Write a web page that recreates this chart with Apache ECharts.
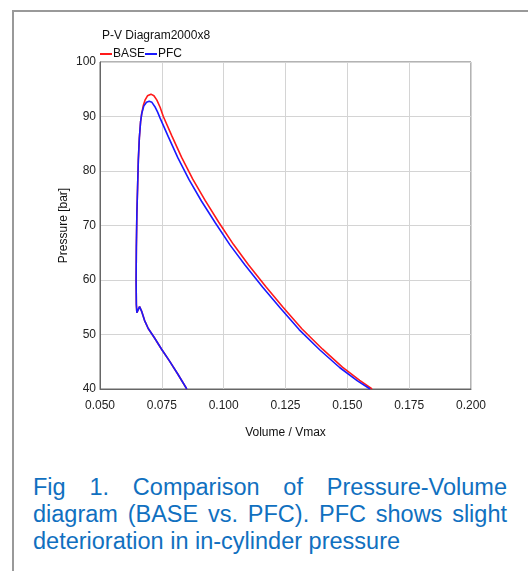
<!DOCTYPE html>
<html>
<head>
<meta charset="utf-8">
<style>
  body { margin: 0; width: 528px; height: 571px; position: relative; background: #fff; overflow: hidden; }
  #frame { position: absolute; left: 12px; top: 10px; right: -4px; bottom: -4px; border-top: 2px solid #999; border-left: 2px solid #999; }
  #container { position: absolute; left: 0; top: 0; width: 528px; height: 460px; }
  #caption { position: absolute; left: 33px; top: 474px; width: 474px; font-family: "Liberation Sans", Arial, sans-serif;
             font-size: 23.5px; line-height: 27px; color: #1070c0; text-align: justify; }
</style>
</head>
<body>
<div id="frame"></div>
<div id="container"></div>
<div id="caption">Fig 1. Comparison of Pressure-Volume diagram (BASE vs. PFC). PFC shows slight deterioration in in-cylinder pressure</div>
<script src="https://cdn.jsdelivr.net/npm/echarts@6/dist/echarts.min.js"></script>
<script>
// compression branch + combustion rise (both runs overlap here)
var sharedVolume   = [0.0851, 0.0815, 0.0780, 0.0749, 0.0720, 0.0695, 0.0680, 0.0668, 0.0660, 0.0654, 0.0649, 0.0647, 0.0646, 0.0647, 0.0649, 0.0652, 0.0655, 0.0659, 0.0664, 0.0669];
var sharedPressure = [40.0, 42.7, 45.2, 47.3, 49.4, 51.1, 52.6, 54.3, 55.1, 54.8, 54.0, 55.5, 60.0, 66.0, 72.0, 77.0, 82.0, 86.0, 89.0, 90.6];

// peak + expansion
var baseVolume   = [0.0675, 0.0682, 0.0692, 0.0706, 0.0718, 0.0730, 0.0743, 0.0756, 0.0790, 0.0830, 0.0875, 0.0925, 0.0980, 0.1040, 0.1100, 0.1170, 0.1240, 0.1317, 0.1400, 0.1480, 0.1550, 0.1600];
var basePressure = [92.0, 93.0, 93.8, 94.1, 93.8, 93.0, 91.7, 90.0, 86.5, 82.5, 78.5, 74.6, 70.6, 66.5, 62.8, 58.8, 55.0, 51.0, 47.3, 44.0, 41.6, 40.0];

var pfcVolume   = [0.0677, 0.0688, 0.0699, 0.0710, 0.0722, 0.0733, 0.0743, 0.0776, 0.0815, 0.0860, 0.0910, 0.0966, 0.1026, 0.1087, 0.1157, 0.1228, 0.1305, 0.1388, 0.1470, 0.1541, 0.1592];
var pfcPressure = [91.9, 92.6, 92.8, 92.6, 91.8, 90.8, 89.7, 86.3, 82.4, 78.4, 74.5, 70.5, 66.4, 62.7, 58.7, 54.9, 50.9, 47.2, 43.9, 41.5, 40.0];

function pairs(v, p) {
    var out = [];
    for (var i = 0; i < v.length; i++) out.push([v[i], p[i]]);
    return out;
}
var baseData = pairs(sharedVolume, sharedPressure).concat(pairs(baseVolume, basePressure));
var pfcData = pairs(sharedVolume, sharedPressure).concat(pairs(pfcVolume, pfcPressure));

var myChart = echarts.init(document.getElementById('container'));
var option = {
    animation: false,
    textStyle: { fontFamily: 'Liberation Sans, Arial, sans-serif' },
    title: {
        text: 'P-V Diagram2000x8',
        left: 97,
        top: 25,
        textStyle: { fontSize: 12, fontWeight: 'normal', color: '#111' }
    },
    legend: {
        left: 100,
        top: 48,
        padding: 0,
        icon: 'rect',
        itemWidth: 12,
        itemHeight: 2,
        itemGap: 0,
        textStyle: { fontSize: 12, color: '#111', padding: [0, 0, 0, -4] },
        data: ['BASE', 'PFC']
    },
    grid: {
        left: 100,
        right: 57,
        top: 62,
        height: 327,
        show: true,
        borderColor: '#666',
        borderWidth: 1
    },
    xAxis: {
        type: 'value',
        min: 0.05,
        max: 0.2,
        interval: 0.025,
        name: 'Volume / Vmax',
        nameLocation: 'middle',
        nameGap: 38,
        nameMoveOverlap: false,
        nameTextStyle: { fontSize: 12, color: '#111' },
        axisLine: { lineStyle: { color: '#666' } },
        axisTick: { show: false },
        axisLabel: {
            fontSize: 12, color: '#222', margin: 11,
            formatter: function (v) { return v.toFixed(3); }
        },
        splitLine: { lineStyle: { color: '#d4d4d4' } }
    },
    yAxis: {
        type: 'value',
        min: 40,
        max: 100,
        interval: 10,
        name: 'Pressure [bar]',
        nameLocation: 'middle',
        nameGap: 30,
        nameMoveOverlap: false,
        nameTextStyle: { fontSize: 12, color: '#111' },
        axisLine: { show: true, lineStyle: { color: '#666' } },
        axisTick: { show: false },
        axisLabel: { fontSize: 12, color: '#222', margin: 4 },
        splitLine: { lineStyle: { color: '#d4d4d4' } }
    },
    series: [
        {
            name: 'BASE',
            type: 'line',
            showSymbol: false,
            color: '#ff1a1a',
            lineStyle: { width: 1.6 },
            data: baseData
        },
        {
            name: 'PFC',
            type: 'line',
            showSymbol: false,
            color: '#1a1aff',
            lineStyle: { width: 1.6 },
            data: pfcData
        }
    ]
};
myChart.setOption(option);
</script>
</body>
</html>
